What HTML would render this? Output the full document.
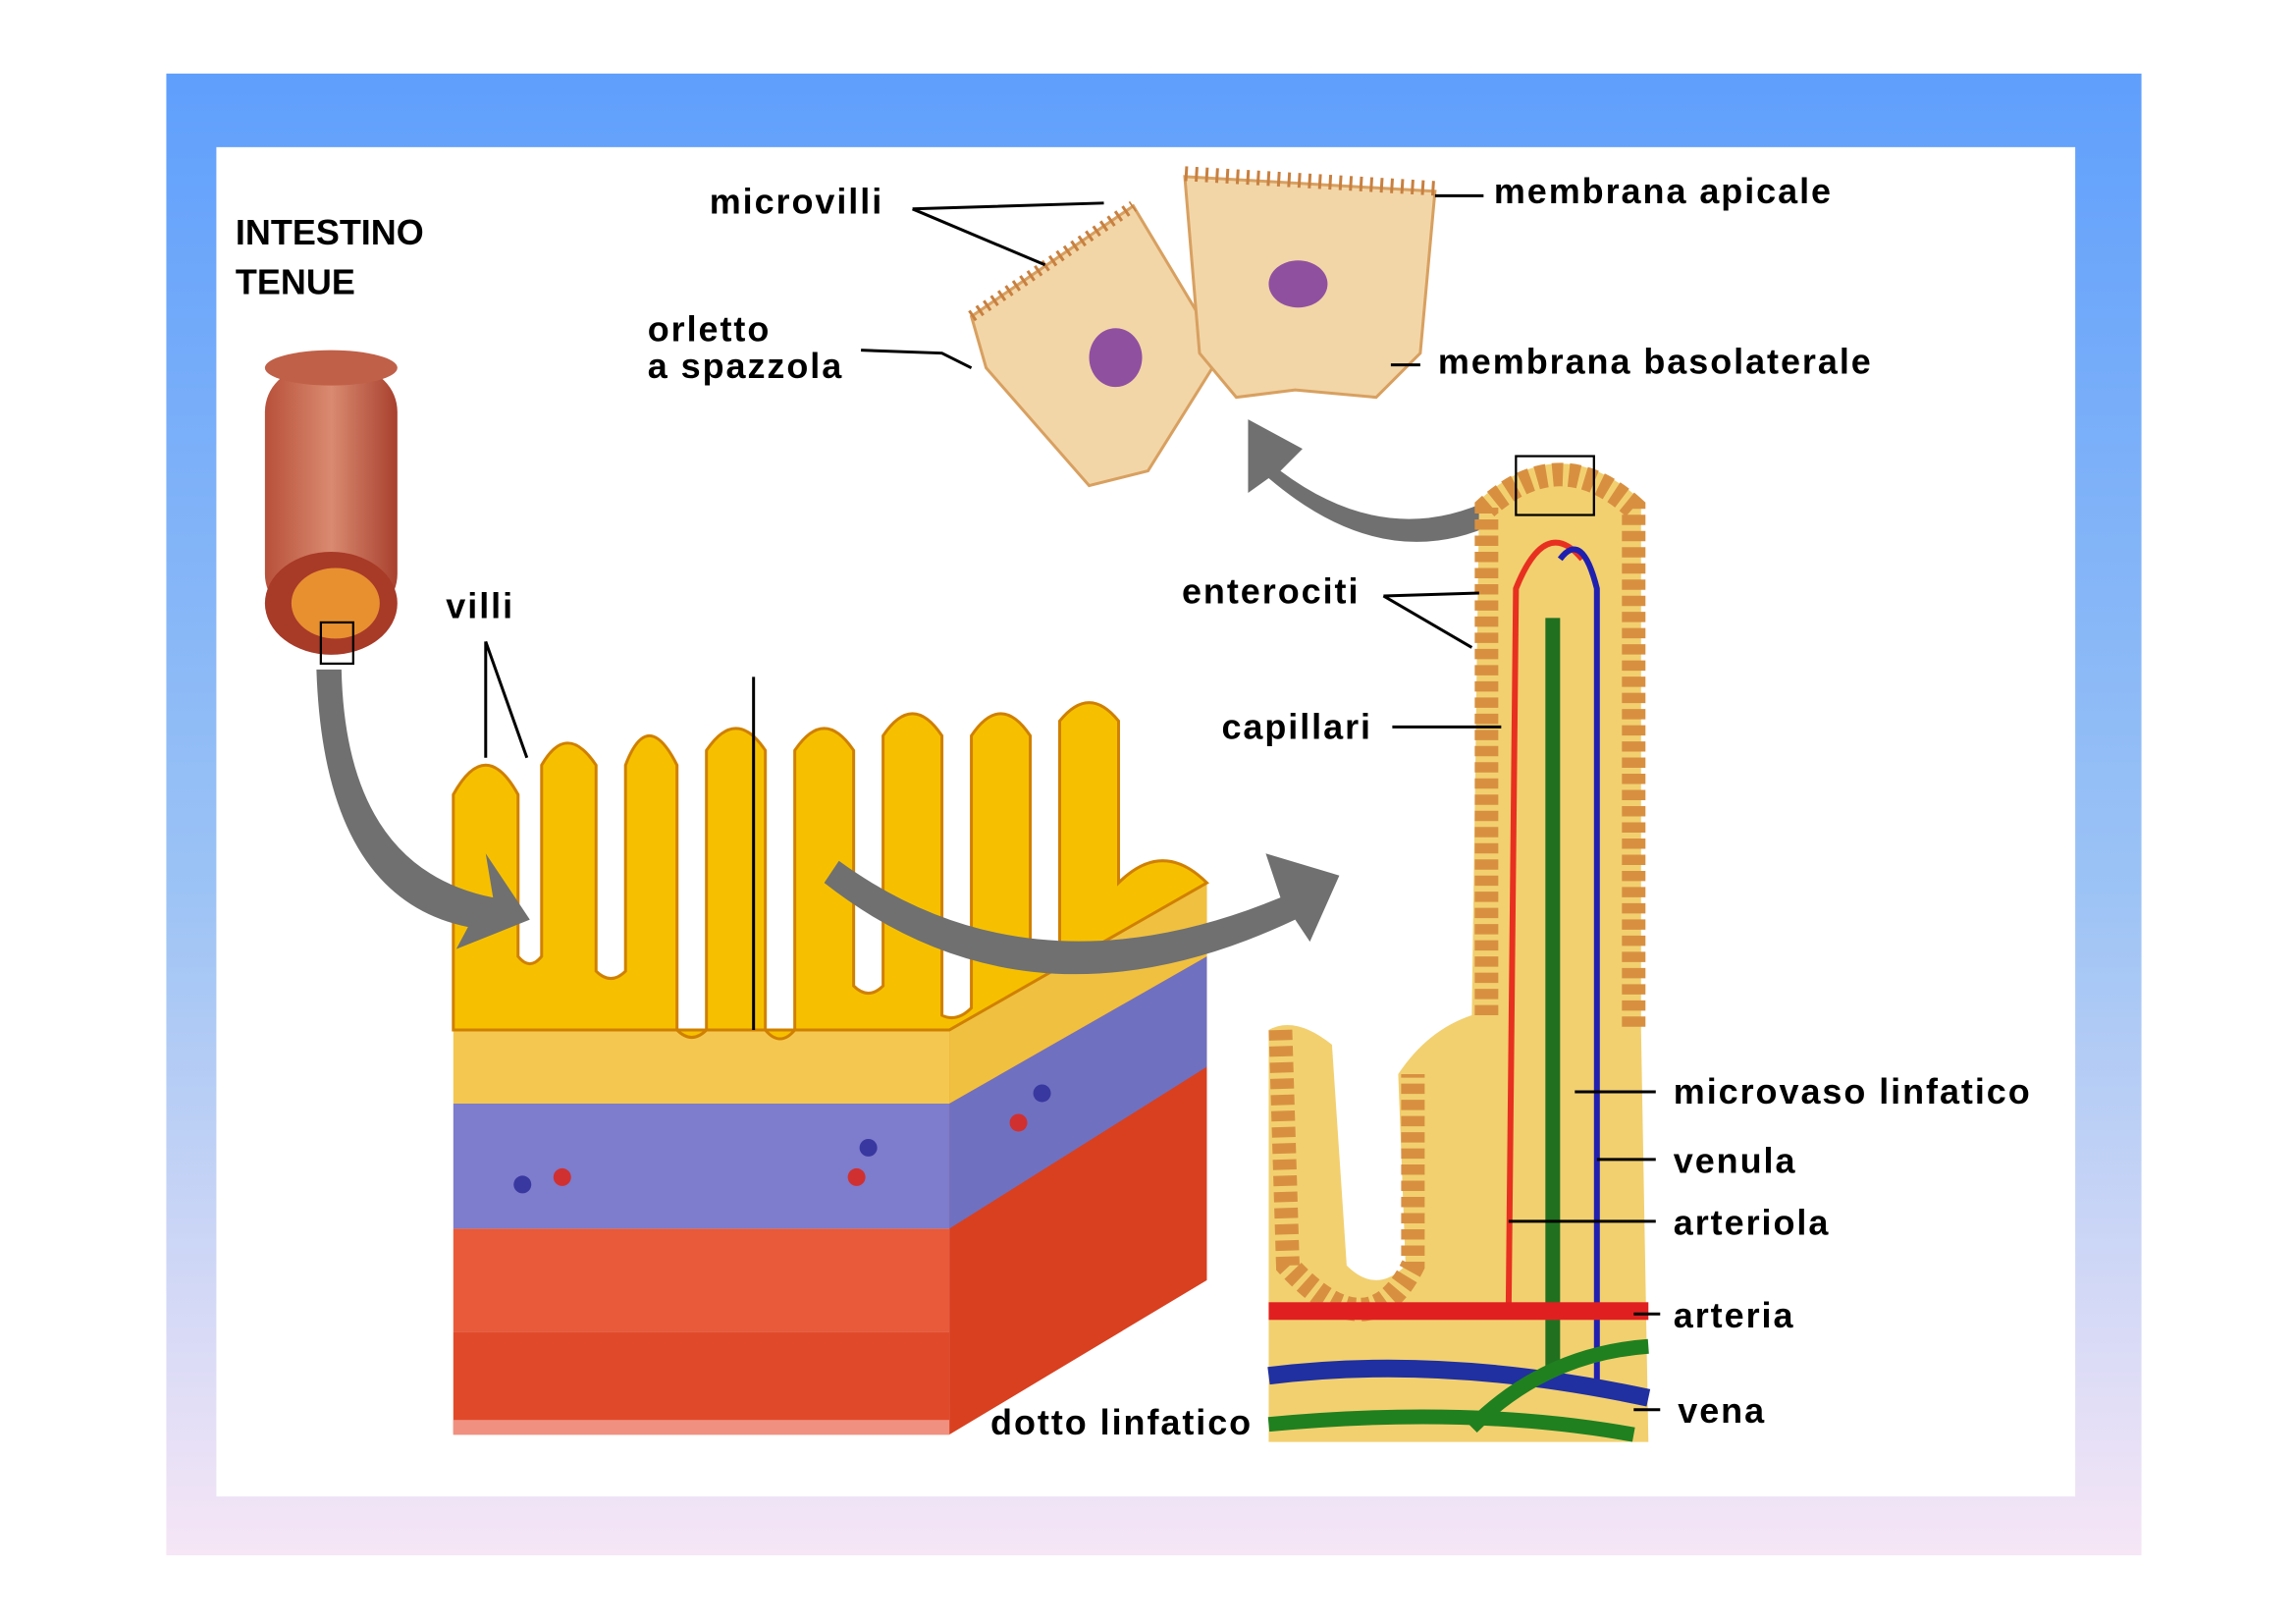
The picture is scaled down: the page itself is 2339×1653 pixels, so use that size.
<!DOCTYPE html>
<html><head><meta charset="utf-8"><style>
html,body{margin:0;padding:0;background:#fff;}
svg{display:block;}
text{font-family:"Liberation Sans",sans-serif;font-weight:bold;fill:#000;}
</style></head><body>
<svg width="2339" height="1653" viewBox="0 0 1560 1103" preserveAspectRatio="none">
<defs>
<linearGradient id="bg" x1="0" y1="0" x2="0" y2="1">
<stop offset="0" stop-color="#5f9ffc"/><stop offset="0.55" stop-color="#9cc3f5"/><stop offset="1" stop-color="#f6e6f6"/>
</linearGradient>
<linearGradient id="tube" x1="0" y1="0" x2="1" y2="0">
<stop offset="0" stop-color="#b8503a"/><stop offset="0.5" stop-color="#d98a70"/><stop offset="1" stop-color="#a8402e"/>
</linearGradient>
</defs>
<rect x="113" y="50" width="1342" height="1007" fill="url(#bg)"/>
<rect x="147" y="100" width="1263" height="917" fill="#fff"/>

<!-- tube -->
<rect x="180" y="250" width="90" height="170" rx="30" fill="url(#tube)"/>
<ellipse cx="225" cy="250" rx="45" ry="12" fill="#c06048"/>
<ellipse cx="225" cy="410" rx="45" ry="35" fill="#a83a28"/>
<ellipse cx="228" cy="410" rx="30" ry="24" fill="#e89030"/>
<rect x="218" y="423" width="22" height="28" fill="none" stroke="#000" stroke-width="1.5"/>

<!-- block -->
<polygon points="645,700 820,600 820,870 645,975" fill="#d84020"/>
<polygon points="645,750 820,650 820,725 645,835" fill="#7070c0"/>
<polygon points="645,700 820,600 820,650 645,750" fill="#f0c040"/>
<rect x="308" y="700" width="337" height="50" fill="#f4c850"/>
<rect x="308" y="750" width="337" height="85" fill="#7e7ccc"/>
<rect x="308" y="835" width="337" height="70" fill="#e85a3a"/>
<rect x="308" y="905" width="337" height="70" fill="#e04a2a"/>
<rect x="308" y="965" width="337" height="10" fill="#f09080"/>
<g fill="#f6c000" stroke="#d08000" stroke-width="2">
<path d="M308,700 L308,540 Q330,500 352,540 L352,650 Q360,660 368,650 L368,520 Q385,490 405,520 L405,660 Q415,670 425,660 L425,520 Q440,480 460,520 L460,700 Q470,710 480,700 L480,510 Q500,480 520,510 L520,700 Q530,712 540,700 L540,510 Q560,480 580,510 L580,670 Q590,680 600,670 L600,500 Q620,470 640,500 L640,690 Q650,695 660,685 L660,500 Q680,470 700,500 L700,650 Q710,660 720,650 L720,490 Q740,465 760,490 L760,600 Q790,570 820,600 L645,700 Z"/>
</g>
<line x1="512" y1="460" x2="512" y2="700" stroke="#000" stroke-width="2"/>
<g fill="#3838a0"><circle cx="355" cy="805" r="6"/><circle cx="590" cy="780" r="6"/><circle cx="708" cy="743" r="6"/></g>
<g fill="#d03030"><circle cx="382" cy="800" r="6"/><circle cx="582" cy="800" r="6"/><circle cx="692" cy="763" r="6"/></g>

<!-- arrows -->
<path d="M232,455 Q235,590 335,610 L330,580 L360,625 L310,645 L318,630 Q220,610 215,455 Z" fill="#707070"/>
<path d="M570,585 Q700,680 870,610 L860,580 L910,595 L890,640 L880,625 Q700,710 560,600 Z" fill="#707070"/>
<path d="M1030,330 Q950,380 870,320 L885,305 L848,285 L848,335 L862,325 Q950,400 1035,345 Z" fill="#707070"/>

<!-- right villus -->
<path d="M862,980 L862,700 Q880,690 905,710 L915,860 Q935,880 955,860 L950,730 Q970,700 1000,690 L1005,340 Q1060,290 1115,340 L1115,700 L1120,980 Z" fill="#f2d070"/>
<path d="M1010,690 L1010,345 Q1060,300 1110,345 L1110,700" fill="none" stroke="#d89040" stroke-width="16" stroke-dasharray="7 4"/>
<path d="M870,700 L875,860 Q930,920 960,860 L960,730" fill="none" stroke="#d89040" stroke-width="16" stroke-dasharray="7 4"/>
<path d="M1025,890 L1030,400 Q1050,350 1075,380" fill="none" stroke="#e83020" stroke-width="4"/>
<path d="M1085,940 L1085,400 Q1075,360 1060,380" fill="none" stroke="#2020b0" stroke-width="4"/>
<path d="M1055,940 L1055,420" fill="none" stroke="#207020" stroke-width="10"/>
<rect x="862" y="885" width="258" height="12" fill="#e02020"/>
<path d="M862,935 Q980,920 1120,950" stroke="#2030a0" stroke-width="12" fill="none"/>
<path d="M862,968 Q1000,955 1110,975" stroke="#208020" stroke-width="10" fill="none"/>
<path d="M1000,970 Q1050,920 1120,915" stroke="#208020" stroke-width="10" fill="none"/>
<rect x="1030" y="310" width="53" height="40" fill="none" stroke="#000" stroke-width="1.5"/>

<!-- cells -->
<polygon points="660,215 770,140 830,240 780,320 740,330 670,250" fill="#f2d6a8" stroke="#d8a060" stroke-width="2"/>
<polygon points="805,120 975,130 965,240 935,270 880,265 840,270 815,240" fill="#f2d6a8" stroke="#d8a060" stroke-width="2"/>
<path d="M660,215 L770,140" stroke="#c88040" stroke-width="8" stroke-dasharray="2 4"/>
<path d="M805,118 L975,128" stroke="#c88040" stroke-width="10" stroke-dasharray="2 5"/>
<ellipse cx="758" cy="243" rx="18" ry="20" fill="#9050a0"/>
<ellipse cx="882" cy="193" rx="20" ry="16" fill="#9050a0"/>

<!-- leader lines -->
<g stroke="#000" stroke-width="2" fill="none">
<path d="M620,142 L750,138 M620,142 L710,180"/>
<path d="M585,238 L640,240 L660,250"/>
<line x1="975" y1="133" x2="1008" y2="133"/>
<line x1="945" y1="248" x2="965" y2="248"/>
<path d="M940,405 L1005,403 M940,405 L1000,440"/>
<line x1="946" y1="494" x2="1020" y2="494"/>
<line x1="1070" y1="742" x2="1125" y2="742"/>
<line x1="1085" y1="788" x2="1125" y2="788"/>
<line x1="1025" y1="830" x2="1125" y2="830"/>
<line x1="1110" y1="893" x2="1128" y2="893"/>
<line x1="1110" y1="958" x2="1128" y2="958"/>
<path d="M330,436 L330,515 M330,436 L358,515"/>
</g>

<!-- labels -->
<g font-size="24" letter-spacing="1.3">
<text x="160" y="166" letter-spacing="0">INTESTINO</text>
<text x="160" y="200" letter-spacing="0">TENUE</text>
<text x="303" y="420">villi</text>
<text x="482" y="145">microvilli</text>
<text x="440" y="232">orletto</text>
<text x="440" y="257">a spazzola</text>
<text x="1015" y="138">membrana apicale</text>
<text x="977" y="254">membrana basolaterale</text>
<text x="803" y="410">enterociti</text>
<text x="830" y="502">capillari</text>
<text x="1137" y="750">microvaso linfatico</text>
<text x="1137" y="797">venula</text>
<text x="1137" y="839">arteriola</text>
<text x="1137" y="902">arteria</text>
<text x="1140" y="967">vena</text>
<text x="673" y="975">dotto linfatico</text>
</g>
</svg>
</body></html>
